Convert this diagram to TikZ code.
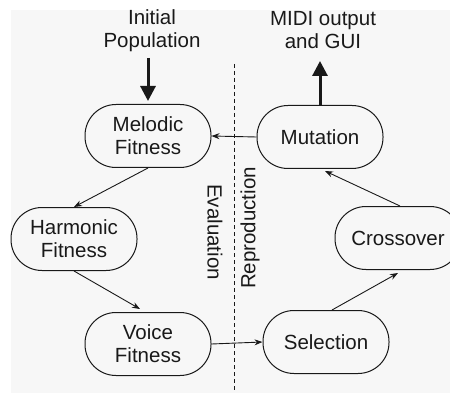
\documentclass[tikz,border=0pt]{standalone}
\usepackage{fontspec}
\setmainfont{Liberation Sans}
\usetikzlibrary{arrows.meta,calc}
\definecolor{bg}{RGB}{247,247,247}
\definecolor{ink}{RGB}{25,25,25}
\tikzset{
  stage/.style={draw=ink, line width=1pt, rounded corners=31pt, minimum width=126pt, minimum height=63pt, align=center, inner sep=0pt, font=\fontsize{20.5}{23}\selectfont, text=ink},
  lbl/.style={align=center, font=\fontsize{20.5}{23}\selectfont, text=ink},
  thin/.style={draw=ink, line width=0.9pt, -{Stealth[length=8pt,width=6pt]}},
  thick/.style={draw=ink, line width=3pt, -{Triangle[length=15pt,width=15pt]}}
}
\begin{document}
\begin{tikzpicture}[x=1pt,y=-1pt]
\useasboundingbox (0,0) rectangle (450,393);
\fill[white] (0,0) rectangle (450,393);
\fill[bg] (11,10) rectangle (450,393);
\node[stage] (mel) at (148,136) {Melodic\\Fitness};
\node[stage] (mut) at (320,137) {Mutation};
\node[stage] (har) at (74,239) {Harmonic\\Fitness};
\node[stage] (voi) at (148,344) {Voice\\Fitness};
\node[stage] (sel) at (326,342) {Selection};
\node[stage] (cro) at (398,238) {Crossover};
\node[lbl] (init) at (152,31) {Initial\\Population};
\node[lbl] (midi) at (323,30) {MIDI output\\and GUI};
\coordinate (dtop) at (234,64);
\coordinate (dbot) at (234,393);
\draw[ink, line width=0.9pt, dash pattern=on 4pt off 3pt] (dtop) -- (dbot);
\node[lbl, rotate=-90] (eval) at (215,232) {Evaluation};
\node[lbl, rotate=90] (repr) at (250,228) {Reproduction};
\draw[thick] ([yshift=46pt]mel.north) -- ([yshift=3pt]mel.north);
\draw[thick] (mut.north) -- ([yshift=44pt]mut.north);
\draw[thin] (mut.west) -- (mel.east);
\draw[thin] (mel.south) -- (har.north);
\draw[thin] (har.south) -- ([xshift=-8pt,yshift=3pt]voi.north);
\draw[thin] (voi.east) -- (sel.west);
\draw[thin] ([xshift=6pt]sel.north) -- ([yshift=-3pt]cro.south);
\draw[thin] ([xshift=2pt]cro.north) -- ([xshift=5pt,yshift=-2pt]mut.south);
\end{tikzpicture}
\end{document}
